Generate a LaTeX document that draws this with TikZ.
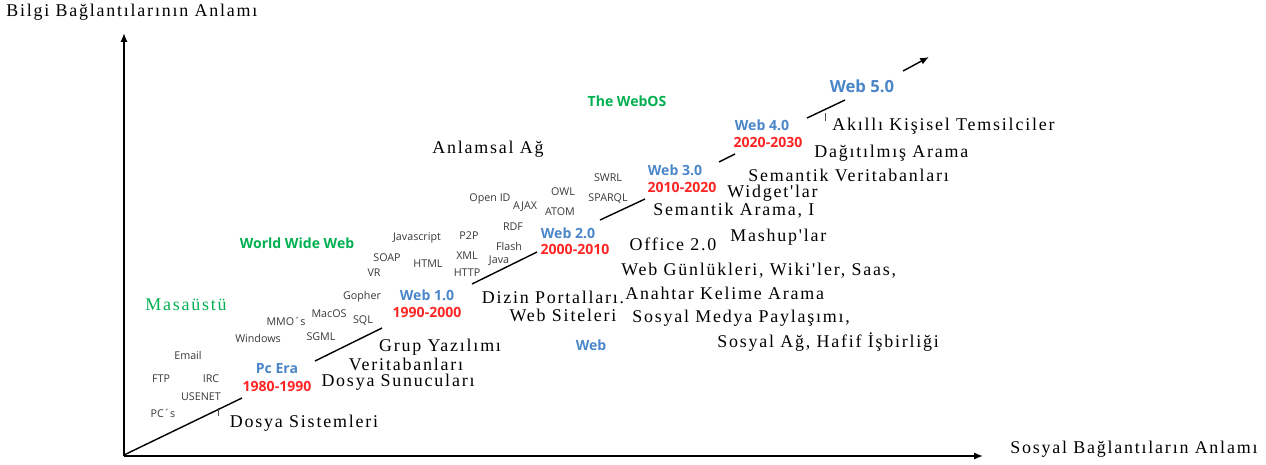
\documentclass[tikz,border=0pt]{standalone}
\usepackage{fontspec}
\setmainfont{Liberation Serif}
\newfontfamily\serwide[LetterSpace=10]{Liberation Serif}
\newfontfamily\osans{Open Sans}
\usetikzlibrary{arrows.meta}
\definecolor{wblue}{HTML}{4A86C8}
\definecolor{wred}{HTML}{FF2525}
\definecolor{wgreen}{HTML}{00B050}
\definecolor{wgrey}{HTML}{383838}
\begin{document}
\begin{tikzpicture}[x=0.02cm,y=-0.02cm,
  sertext/.style={font=\fontsize{10.2}{12}\selectfont\serwide, inner sep=0pt, text=black},
  lab/.style={font=\fontsize{6.1}{7}\selectfont\osans, inner sep=0pt, text=wgrey},
  webname/.style={font=\fontsize{8}{9}\selectfont\osans\bfseries, inner sep=0pt, text=wblue},
  years/.style={font=\fontsize{8}{9}\selectfont\osans\bfseries, inner sep=0pt, text=wred},
  era/.style={font=\fontsize{8}{9}\selectfont\osans\bfseries, inner sep=0pt, text=wgreen},
  axis/.style={line width=0.9pt, -{Latex[length=5pt,width=4pt]}},
  seg/.style={line width=0.8pt}]
\useasboundingbox (0,0) rectangle (1266,464);

% axes
\coordinate (O) at (124,456);
\coordinate (ytop) at (124,33);
\coordinate (xend) at (983,456);
\draw[axis] (O) -- (ytop);
\draw[axis] (O) -- (xend);
\node[sertext, anchor=west] (ylab) at (6,12) {Bilgi Bağlantılarının Anlamı};
\node[sertext, anchor=west] (xlab) at (1010,449) {Sosyal Bağlantıların Anlamı};

% diagonal segments
\coordinate (s1a) at (124,455); \coordinate (s1b) at (242,398);
\coordinate (s2a) at (315,361); \coordinate (s2b) at (382,328);
\coordinate (s3a) at (472,284); \coordinate (s3b) at (537,252);
\coordinate (s4a) at (600,220); \coordinate (s4b) at (645,199);
\coordinate (s5a) at (719,162); \coordinate (s5b) at (735,154);
\coordinate (s6a) at (807,118); \coordinate (s6b) at (845,100);
\coordinate (s7a) at (903,71);  \coordinate (s7b) at (929,57);
\draw[seg] (s1a) -- (s1b);
\draw[seg] (s2a) -- (s2b);
\draw[seg] (s3a) -- (s3b);
\draw[seg] (s4a) -- (s4b);
\draw[seg] (s5a) -- (s5b);
\draw[seg] (s6a) -- (s6b);
\draw[seg, -{Latex[length=5pt,width=4pt]}] (s7a) -- (s7b);

% small cursor marks
\coordinate (c1a) at (218,408); \coordinate (c1b) at (218,416);
\coordinate (c2a) at (825,113); \coordinate (c2b) at (825,121);
\draw[line width=0.4pt, black!70] (c1a) -- (c1b);
\draw[line width=0.4pt, black!70] (c2a) -- (c2b);

% era labels
\node[sertext, text=wgreen] (masa) at (186,305) {Masaüstü};
\node[era] (www) at (297,243) {World Wide Web};
\node[era] (webos) at (627,101) {The WebOS};
\node[webname] (webera) at (591,345) {Web};

% generation labels
\node[webname] (pc) at (277,369) {Pc Era};
\node[years] (pcy) at (277,386) {1980-1990};
\node[webname] (w1) at (427,295) {Web 1.0};
\node[years] (w1y) at (427,312) {1990-2000};
\node[webname] (w2) at (568,233) {Web 2.0};
\node[years] (w2y) at (575,249) {2000-2010};
\node[webname] (w3) at (675,170) {Web 3.0};
\node[years] (w3y) at (682,187) {2010-2020};
\node[webname] (w4) at (762,125) {Web 4.0};
\node[years] (w4y) at (768,142) {2020-2030};
\node[webname, font=\fontsize{9.5}{11}\selectfont\osans\bfseries] (w5) at (862,86) {Web 5.0};

% technology labels
\node[lab] (pcs) at (163,413) {PC´s};
\node[lab] (usenet) at (201,397) {USENET};
\node[lab] (ftp) at (161,379) {FTP};
\node[lab] (irc) at (211,379) {IRC};
\node[lab] (email) at (188,355) {Email};
\node[lab] (windows) at (258,338) {Windows};
\node[lab] (sgml) at (321,337) {SGML};
\node[lab] (mmo) at (286,321) {MMO´s};
\node[lab] (macos) at (329,314) {MacOS};
\node[lab] (sql) at (363,321) {SQL};
\node[lab] (gopher) at (362,297) {Gopher};
\node[lab] (vr) at (374,273) {VR};
\node[lab] (soap) at (387,258) {SOAP};
\node[lab] (html) at (428,264) {HTML};
\node[lab] (js) at (417,238) {Javascript};
\node[lab] (p2p) at (469,236) {P2P};
\node[lab] (xml) at (467,256) {XML};
\node[lab] (http) at (467,273) {HTTP};
\node[lab] (java) at (499,261) {Java};
\node[lab] (flash) at (509,246) {Flash};
\node[lab] (rdf) at (513,227) {RDF};
\node[lab] (openid) at (490,199) {Open ID};
\node[lab] (ajax) at (525,207) {AJAX};
\node[lab] (atom) at (560,212) {ATOM};
\node[lab] (owl) at (563,192) {OWL};
\node[lab] (sparql) at (608,199) {SPARQL};
\node[lab] (swrl) at (608,178) {SWRL};

% serif descriptions
\node[sertext] (dsis) at (304,423) {Dosya Sistemleri};
\node[sertext] (dsun) at (398,382) {Dosya Sunucuları};
\node[sertext] (verit) at (406,364) {Veritabanları};
\node[sertext] (grup) at (440,347) {Grup Yazılımı};
\node[sertext] (dizin) at (553,297) {Dizin Portalları.};
\node[sertext] (websit) at (563,315) {Web Siteleri};
\node[sertext] (anlam) at (488,149) {Anlamsal Ağ};
\node[sertext] (office) at (673,244) {Office 2.0};
\node[sertext, anchor=west] (blog) at (621,271) {Web Günlükleri, Wiki'ler, Saas,};
\node[sertext, anchor=west] (anahtar) at (625,293) {Anahtar Kelime Arama};
\node[sertext, anchor=west] (sosmed) at (632,318) {Sosyal Medya Paylaşımı,};
\node[sertext, anchor=west] (sosag) at (717,342) {Sosyal Ağ, Hafif İşbirliği};
\node[sertext, anchor=west] (mashup) at (730,237) {Mashup'lar};
\node[sertext, anchor=west] (semara) at (653,211) {Semantik Arama, I};
\node[sertext, anchor=west] (widget) at (727,193) {Widget'lar};
\node[sertext, anchor=west] (semver) at (748,175) {Semantik Veritabanları};
\node[sertext, anchor=west] (dagit) at (814,153) {Dağıtılmış Arama};
\node[sertext, anchor=west] (akilli) at (832,126) {Akıllı Kişisel Temsilciler};
\end{tikzpicture}
\end{document}
